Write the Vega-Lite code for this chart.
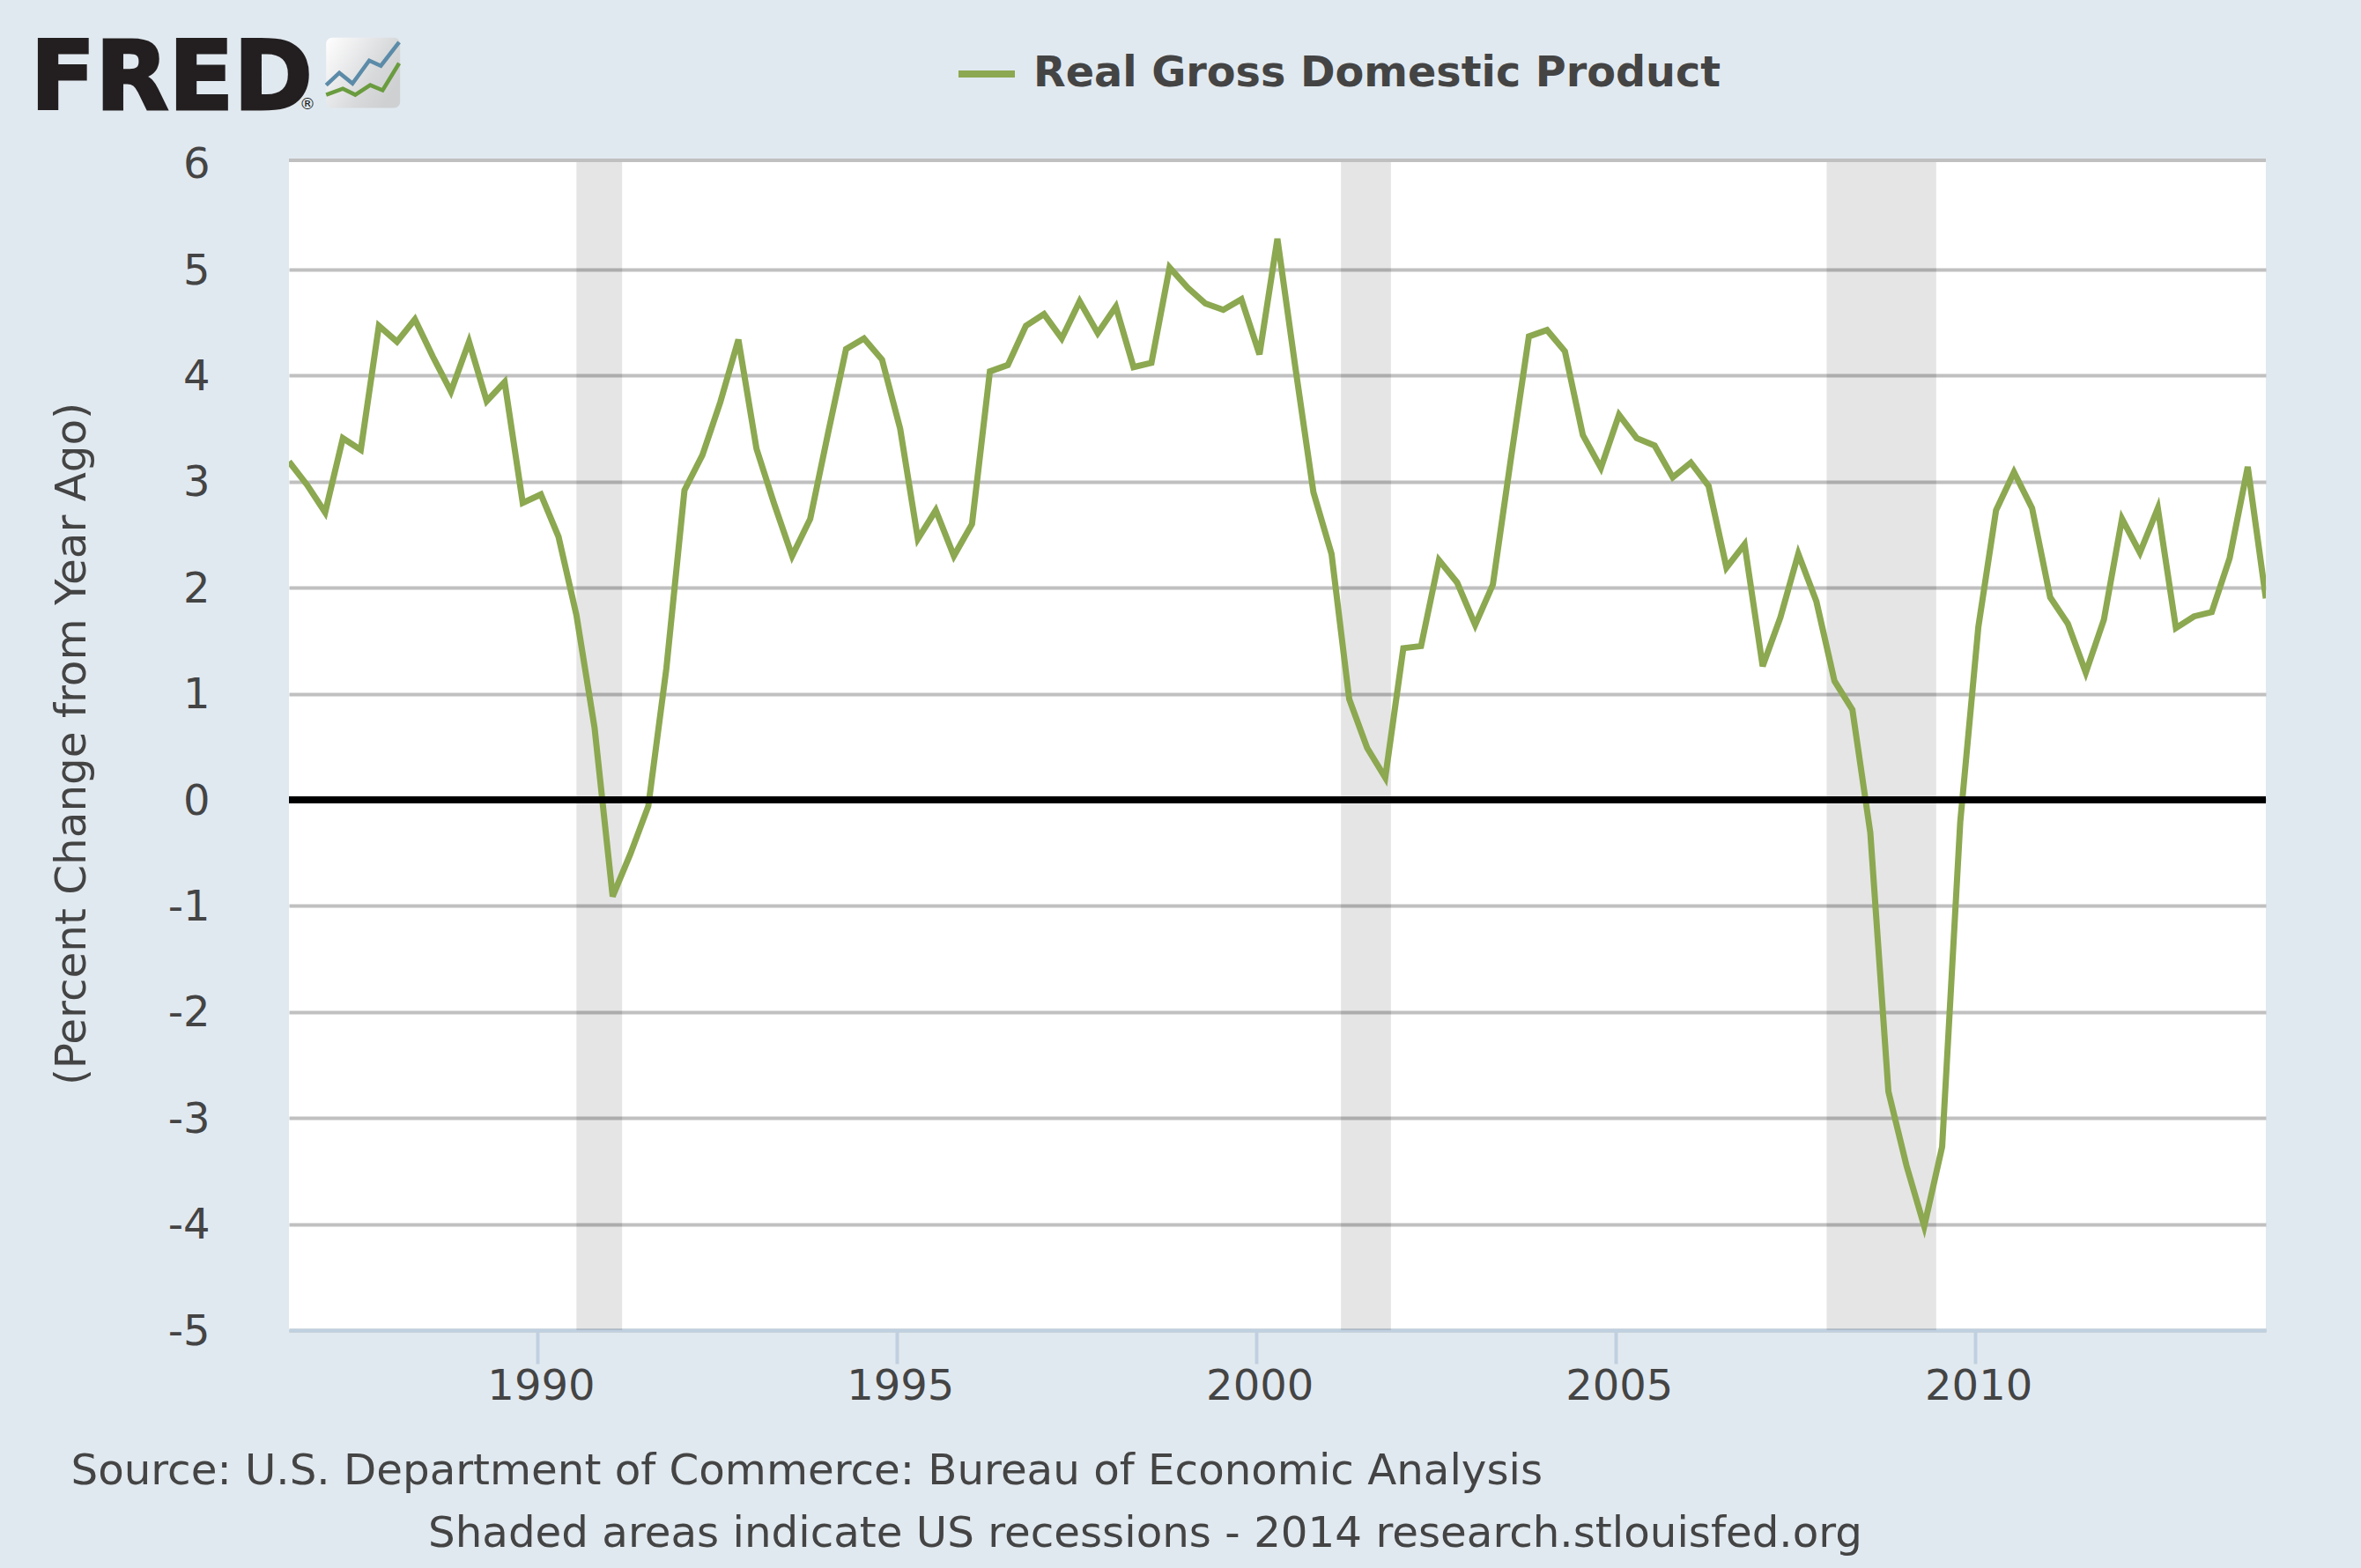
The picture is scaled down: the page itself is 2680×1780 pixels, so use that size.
{
"$schema":"https://vega.github.io/schema/vega-lite/v6.json",
"width":2244,"height":1328,
"autosize":{"type":"none"},
"padding":{"left":328,"top":182,"right":108,"bottom":270},
"background":"#e1e9f0",
"config":{"view":{"fill":"#ffffff","stroke":null},"font":"DejaVu Sans"},
"title":{"text":"Shaded areas indicate US recessions - 2014 research.stlouisfed.org","orient":"bottom","frame":"group","anchor":"middle","dx":-150,"offset":25,"fontSize":48.3,"fontWeight":"normal","color":"#444444","font":"DejaVu Sans"},
"datasets":{
"gdp":[
{"date":"1986-07-01","value":3.19,"series":"Real Gross Domestic Product"},{"date":"1986-10-01","value":2.97,"series":"Real Gross Domestic Product"},{"date":"1987-01-01","value":2.71,"series":"Real Gross Domestic Product"},{"date":"1987-04-01","value":3.41,"series":"Real Gross Domestic Product"},{"date":"1987-07-01","value":3.3,"series":"Real Gross Domestic Product"},{"date":"1987-10-01","value":4.47,"series":"Real Gross Domestic Product"},{"date":"1988-01-01","value":4.32,"series":"Real Gross Domestic Product"},{"date":"1988-04-01","value":4.53,"series":"Real Gross Domestic Product"},{"date":"1988-07-01","value":4.18,"series":"Real Gross Domestic Product"},{"date":"1988-10-01","value":3.85,"series":"Real Gross Domestic Product"},{"date":"1989-01-01","value":4.32,"series":"Real Gross Domestic Product"},{"date":"1989-04-01","value":3.76,"series":"Real Gross Domestic Product"},{"date":"1989-07-01","value":3.94,"series":"Real Gross Domestic Product"},{"date":"1989-10-01","value":2.8,"series":"Real Gross Domestic Product"},{"date":"1990-01-01","value":2.88,"series":"Real Gross Domestic Product"},{"date":"1990-04-01","value":2.48,"series":"Real Gross Domestic Product"},{"date":"1990-07-01","value":1.74,"series":"Real Gross Domestic Product"},{"date":"1990-10-01","value":0.68,"series":"Real Gross Domestic Product"},{"date":"1991-01-01","value":-0.91,"series":"Real Gross Domestic Product"},{"date":"1991-04-01","value":-0.51,"series":"Real Gross Domestic Product"},{"date":"1991-07-01","value":-0.06,"series":"Real Gross Domestic Product"},{"date":"1991-10-01","value":1.24,"series":"Real Gross Domestic Product"},{"date":"1992-01-01","value":2.92,"series":"Real Gross Domestic Product"},{"date":"1992-04-01","value":3.25,"series":"Real Gross Domestic Product"},{"date":"1992-07-01","value":3.75,"series":"Real Gross Domestic Product"},{"date":"1992-10-01","value":4.34,"series":"Real Gross Domestic Product"},{"date":"1993-01-01","value":3.31,"series":"Real Gross Domestic Product"},{"date":"1993-04-01","value":2.79,"series":"Real Gross Domestic Product"},{"date":"1993-07-01","value":2.3,"series":"Real Gross Domestic Product"},{"date":"1993-10-01","value":2.65,"series":"Real Gross Domestic Product"},{"date":"1994-01-01","value":3.47,"series":"Real Gross Domestic Product"},{"date":"1994-04-01","value":4.25,"series":"Real Gross Domestic Product"},{"date":"1994-07-01","value":4.35,"series":"Real Gross Domestic Product"},{"date":"1994-10-01","value":4.15,"series":"Real Gross Domestic Product"},{"date":"1995-01-01","value":3.5,"series":"Real Gross Domestic Product"},{"date":"1995-04-01","value":2.46,"series":"Real Gross Domestic Product"},{"date":"1995-07-01","value":2.73,"series":"Real Gross Domestic Product"},{"date":"1995-10-01","value":2.3,"series":"Real Gross Domestic Product"},{"date":"1996-01-01","value":2.6,"series":"Real Gross Domestic Product"},{"date":"1996-04-01","value":4.04,"series":"Real Gross Domestic Product"},{"date":"1996-07-01","value":4.1,"series":"Real Gross Domestic Product"},{"date":"1996-10-01","value":4.47,"series":"Real Gross Domestic Product"},{"date":"1997-01-01","value":4.58,"series":"Real Gross Domestic Product"},{"date":"1997-04-01","value":4.35,"series":"Real Gross Domestic Product"},{"date":"1997-07-01","value":4.7,"series":"Real Gross Domestic Product"},{"date":"1997-10-01","value":4.4,"series":"Real Gross Domestic Product"},{"date":"1998-01-01","value":4.65,"series":"Real Gross Domestic Product"},{"date":"1998-04-01","value":4.08,"series":"Real Gross Domestic Product"},{"date":"1998-07-01","value":4.12,"series":"Real Gross Domestic Product"},{"date":"1998-10-01","value":5.02,"series":"Real Gross Domestic Product"},{"date":"1999-01-01","value":4.83,"series":"Real Gross Domestic Product"},{"date":"1999-04-01","value":4.68,"series":"Real Gross Domestic Product"},{"date":"1999-07-01","value":4.62,"series":"Real Gross Domestic Product"},{"date":"1999-10-01","value":4.72,"series":"Real Gross Domestic Product"},{"date":"2000-01-01","value":4.2,"series":"Real Gross Domestic Product"},{"date":"2000-04-01","value":5.29,"series":"Real Gross Domestic Product"},{"date":"2000-07-01","value":4.08,"series":"Real Gross Domestic Product"},{"date":"2000-10-01","value":2.9,"series":"Real Gross Domestic Product"},{"date":"2001-01-01","value":2.32,"series":"Real Gross Domestic Product"},{"date":"2001-04-01","value":0.95,"series":"Real Gross Domestic Product"},{"date":"2001-07-01","value":0.49,"series":"Real Gross Domestic Product"},{"date":"2001-10-01","value":0.21,"series":"Real Gross Domestic Product"},{"date":"2002-01-01","value":1.43,"series":"Real Gross Domestic Product"},{"date":"2002-04-01","value":1.45,"series":"Real Gross Domestic Product"},{"date":"2002-07-01","value":2.26,"series":"Real Gross Domestic Product"},{"date":"2002-10-01","value":2.05,"series":"Real Gross Domestic Product"},{"date":"2003-01-01","value":1.65,"series":"Real Gross Domestic Product"},{"date":"2003-04-01","value":2.03,"series":"Real Gross Domestic Product"},{"date":"2003-07-01","value":3.21,"series":"Real Gross Domestic Product"},{"date":"2003-10-01","value":4.37,"series":"Real Gross Domestic Product"},{"date":"2004-01-01","value":4.43,"series":"Real Gross Domestic Product"},{"date":"2004-04-01","value":4.23,"series":"Real Gross Domestic Product"},{"date":"2004-07-01","value":3.44,"series":"Real Gross Domestic Product"},{"date":"2004-10-01","value":3.13,"series":"Real Gross Domestic Product"},{"date":"2005-01-01","value":3.63,"series":"Real Gross Domestic Product"},{"date":"2005-04-01","value":3.41,"series":"Real Gross Domestic Product"},{"date":"2005-07-01","value":3.34,"series":"Real Gross Domestic Product"},{"date":"2005-10-01","value":3.04,"series":"Real Gross Domestic Product"},{"date":"2006-01-01","value":3.18,"series":"Real Gross Domestic Product"},{"date":"2006-04-01","value":2.96,"series":"Real Gross Domestic Product"},{"date":"2006-07-01","value":2.19,"series":"Real Gross Domestic Product"},{"date":"2006-10-01","value":2.41,"series":"Real Gross Domestic Product"},{"date":"2007-01-01","value":1.26,"series":"Real Gross Domestic Product"},{"date":"2007-04-01","value":1.72,"series":"Real Gross Domestic Product"},{"date":"2007-07-01","value":2.32,"series":"Real Gross Domestic Product"},{"date":"2007-10-01","value":1.87,"series":"Real Gross Domestic Product"},{"date":"2008-01-01","value":1.12,"series":"Real Gross Domestic Product"},{"date":"2008-04-01","value":0.85,"series":"Real Gross Domestic Product"},{"date":"2008-07-01","value":-0.31,"series":"Real Gross Domestic Product"},{"date":"2008-10-01","value":-2.75,"series":"Real Gross Domestic Product"},{"date":"2009-01-01","value":-3.45,"series":"Real Gross Domestic Product"},{"date":"2009-04-01","value":-4.02,"series":"Real Gross Domestic Product"},{"date":"2009-07-01","value":-3.27,"series":"Real Gross Domestic Product"},{"date":"2009-10-01","value":-0.21,"series":"Real Gross Domestic Product"},{"date":"2010-01-01","value":1.63,"series":"Real Gross Domestic Product"},{"date":"2010-04-01","value":2.73,"series":"Real Gross Domestic Product"},{"date":"2010-07-01","value":3.09,"series":"Real Gross Domestic Product"},{"date":"2010-10-01","value":2.75,"series":"Real Gross Domestic Product"},{"date":"2011-01-01","value":1.91,"series":"Real Gross Domestic Product"},{"date":"2011-04-01","value":1.66,"series":"Real Gross Domestic Product"},{"date":"2011-07-01","value":1.2,"series":"Real Gross Domestic Product"},{"date":"2011-10-01","value":1.7,"series":"Real Gross Domestic Product"},{"date":"2012-01-01","value":2.65,"series":"Real Gross Domestic Product"},{"date":"2012-04-01","value":2.33,"series":"Real Gross Domestic Product"},{"date":"2012-07-01","value":2.75,"series":"Real Gross Domestic Product"},{"date":"2012-10-01","value":1.62,"series":"Real Gross Domestic Product"},{"date":"2013-01-01","value":1.73,"series":"Real Gross Domestic Product"},{"date":"2013-04-01","value":1.77,"series":"Real Gross Domestic Product"},{"date":"2013-07-01","value":2.28,"series":"Real Gross Domestic Product"},{"date":"2013-10-01","value":3.14,"series":"Real Gross Domestic Product"},{"date":"2014-01-01","value":1.9,"series":"Real Gross Domestic Product"}
],
"recessions":[{"start":"1990-07-01","end":"1991-02-18"},{"start":"2001-02-18","end":"2001-10-30"},{"start":"2007-11-22","end":"2009-06-01"}],
"logoBox":[{"start":"1987-01-06","end":"1988-01-17","low":6.524,"high":7.187}],
"logoLines":[
{"date":"1987-01-06","value":6.739,"s":"blue"},{"date":"1987-03-14","value":6.855,"s":"blue"},{"date":"1987-05-20","value":6.755,"s":"blue"},{"date":"1987-08-13","value":6.971,"s":"blue"},{"date":"1987-10-11","value":6.921,"s":"blue"},{"date":"1988-01-12","value":7.145,"s":"blue"},
{"date":"1987-01-06","value":6.648,"s":"green"},{"date":"1987-04-01","value":6.706,"s":"green"},{"date":"1987-06-03","value":6.648,"s":"green"},{"date":"1987-08-18","value":6.739,"s":"green"},{"date":"1987-10-20","value":6.69,"s":"green"},{"date":"1988-01-12","value":6.946,"s":"green"}
],
"wordmark":[{"date":"1982-11-25","value":6.515,"label":"FRED"}],
"registered":[{"date":"1986-08-24","value":6.515,"label":"®"}]
},
"layer":[
{"data":{"name":"recessions"},"mark":{"type":"rect","color":"#000000","opacity":0.1},
"encoding":{"x":{"field":"start","type":"temporal","scale":{"domain":["1986-07-01","2014-01-01"]},
"axis":{"tickCount":{"interval":"year","step":5},"format":"%Y","grid":false,"domainColor":"#c0d0e0","domainWidth":4,"tickColor":"#c0d0e0","tickWidth":4,"tickSize":38,"tickOffset":-3.5,"labelOffset":3.5,"labelFontSize":48,"labelColor":"#444444","labelPadding":2,"labelFont":"DejaVu Sans",
"title":"Source: U.S. Department of Commerce: Bureau of Economic Analysis","titleFont":"DejaVu Sans","titleFontSize":48.3,"titleFontWeight":"normal","titleColor":"#444444","titleAnchor":"start","titleAlign":"left","titleBaseline":"alphabetic","titleX":-248,"titleY":174}},
"x2":{"field":"end"}}},
{"data":{"name":"gdp"},"mark":{"type":"line","strokeWidth":7,"strokeJoin":"miter","clip":true},
"encoding":{"x":{"field":"date","type":"temporal"},
"y":{"field":"value","type":"quantitative","scale":{"domain":[-5,6.03],"nice":false,"zero":false},
"axis":{"values":[-5,-4,-3,-2,-1,0,1,2,3,4,5,6],"labelExpr":"toString(datum.value)","grid":true,"gridColor":"#c0c0c0","gridWidth":4,"gridOpacity":{"condition":{"test":"datum.value === 6","value":0},"value":1},"domain":false,"ticks":false,"labelFontSize":48,"labelColor":"#444444","labelPadding":90,"labelOffset":2,"labelFont":"DejaVu Sans",
"title":"(Percent Change from Year Ago)","titleFont":"DejaVu Sans","titleFontSize":48.4,"titleFontWeight":"normal","titleColor":"#444444","titleX":-222,"titleY":662}},
"color":{"field":"series","type":"nominal","scale":{"range":["#8ca850"]},
"legend":{"title":null,"orient":"none","legendX":756,"legendY":-134,"symbolType":"stroke","symbolSize":4096,"symbolStrokeWidth":8,"labelFont":"DejaVu Sans","labelFontSize":47.7,"labelFontWeight":"bold","labelColor":"#444444","labelOffset":17,"labelLimit":1000}}}},
{"data":{"values":[{"value":6.03}]},"mark":{"type":"rule","color":"#c0c0c0","strokeWidth":4},
"encoding":{"y":{"field":"value","type":"quantitative"}}},
{"data":{"values":[{"value":0}]},"mark":{"type":"rule","color":"#000000","strokeWidth":8},
"encoding":{"y":{"field":"value","type":"quantitative"}}},
{"data":{"name":"logoBox"},"mark":{"type":"rect","cornerRadius":7,"fill":{"x1":0,"y1":0,"x2":1,"y2":0.6,"gradient":"linear","stops":[{"offset":0,"color":"#ffffff"},{"offset":0.7,"color":"#d8d9db"},{"offset":1,"color":"#cfd0d2"}]}},
"encoding":{"x":{"field":"start","type":"temporal"},"x2":{"field":"end"},"y":{"field":"low","type":"quantitative"},"y2":{"field":"high"}}},
{"data":{"name":"logoLines"},"transform":[{"filter":"datum.s==='blue'"}],"mark":{"type":"line","stroke":"#5b8ba8","strokeWidth":4.5,"strokeJoin":"miter"},
"encoding":{"x":{"field":"date","type":"temporal"},"y":{"field":"value","type":"quantitative"}}},
{"data":{"name":"logoLines"},"transform":[{"filter":"datum.s==='green'"}],"mark":{"type":"line","stroke":"#6a9c3f","strokeWidth":4.5,"strokeJoin":"miter"},
"encoding":{"x":{"field":"date","type":"temporal"},"y":{"field":"value","type":"quantitative"}}},
{"data":{"name":"wordmark"},"mark":{"type":"text","align":"left","baseline":"alphabetic","font":"DejaVu Sans","fontWeight":"bold","fontSize":108,"color":"#231f20","stroke":"#231f20","strokeWidth":3},
"encoding":{"x":{"field":"date","type":"temporal"},"y":{"field":"value","type":"quantitative"},"text":{"field":"label"}}},
{"data":{"name":"registered"},"mark":{"type":"text","align":"left","baseline":"alphabetic","font":"DejaVu Sans","fontSize":18,"color":"#231f20"},
"encoding":{"x":{"field":"date","type":"temporal"},"y":{"field":"value","type":"quantitative"},"text":{"field":"label"}}}
]
}
